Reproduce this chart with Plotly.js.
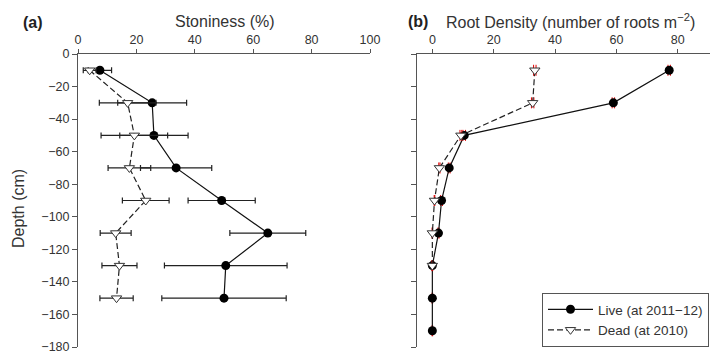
<!DOCTYPE html>
<html>
<head>
<meta charset="utf-8">
<script src="https://cdn.plot.ly/plotly-3.0.1.min.js"></script>
<style>html,body{margin:0;padding:0;background:#fff;}#chart{width:710px;height:353px;}</style>
</head>
<body>
<div id="chart"></div>
<script>
// ---- data ----
var stoneDepth = [-10, -30, -50, -70, -90, -110, -130, -150];
var stoneLive = [7.5, 25.4, 26.0, 33.6, 49.2, 65.0, 50.6, 50.0];
var stoneLiveErr = [4.0, 11.8, 11.7, 12.2, 11.5, 13.0, 21.0, 21.3];
var stoneDead = [4.0, 17.0, 19.3, 17.6, 23.2, 12.9, 14.2, 13.2];
var stoneDeadErr = [2.2, 9.7, 11.4, 7.3, 8.0, 5.3, 6.0, 5.7];

var rootLiveDepth = [-10, -30, -50, -70, -90, -110, -130, -150, -170];
var rootLive = [77.2, 59.0, 10.4, 5.5, 3.0, 2.0, 0, 0, 0];
var rootLiveErr = [0.4, 0.4, 0.4, 0.3, 0.3, 0.2, 0.1, 0.1, 0.1];
var rootDeadDepth = [-10, -30, -50, -70, -90, -110, -130];
var rootDead = [33.4, 32.7, 9.3, 2.3, 0.7, 0, 0];
var rootDeadErr = [0.4, 0.4, 0.3, 0.2, 0.1, 0.1, 0.1];

var depthTicks = [0, -20, -40, -60, -80, -100, -120, -140, -160, -180];
var stoneTicks = [0, 20, 40, 60, 80, 100];
var rootTicks = [0, 20, 40, 60, 80];

var liveName = 'Live (at 2011\u221212)';
var deadName = 'Dead (at 2010)';

var W = 710, H = 353;
function px(x) { return x / W; }
function py(y) { return 1 - y / H; }

var ebA = function (arr) {
  return {type: 'data', array: arr, visible: true, color: '#222', thickness: 1.2, width: 3};
};
var ebB = function (arr) {
  return {type: 'data', array: arr, visible: true, color: '#e00000', thickness: 1, width: 5.5};
};

var traces = [
  {x: stoneLive, y: stoneDepth, xaxis: 'x', yaxis: 'y', type: 'scatter', mode: 'lines+markers',
   error_x: ebA(stoneLiveErr), showlegend: false,
   line: {color: '#111', width: 1.2}, marker: {symbol: 'circle', size: 9, color: '#000'}},
  {x: stoneDead, y: stoneDepth, xaxis: 'x', yaxis: 'y', type: 'scatter', mode: 'lines+markers',
   error_x: ebA(stoneDeadErr), showlegend: false,
   line: {color: '#222', width: 1.2, dash: '6px,3px'},
   marker: {symbol: 'triangle-down', size: 9, color: '#fff', line: {color: '#333', width: 1}}},
  {x: rootLive, y: rootLiveDepth, xaxis: 'x2', yaxis: 'y2', type: 'scatter', mode: 'lines+markers',
   name: liveName, error_x: ebB(rootLiveErr),
   line: {color: '#111', width: 1.2}, marker: {symbol: 'circle', size: 9, color: '#000'}},
  {x: rootDead, y: rootDeadDepth, xaxis: 'x2', yaxis: 'y2', type: 'scatter', mode: 'lines+markers',
   name: deadName, error_x: ebB(rootDeadErr),
   line: {color: '#222', width: 1.2, dash: '6px,3px'},
   marker: {symbol: 'triangle-down', size: 9, color: '#fff', line: {color: '#333', width: 1}}}
];

var axisCommon = {
  showgrid: false, zeroline: false, showline: true, linecolor: '#555', linewidth: 1,
  ticks: 'outside', tickcolor: '#555', ticklen: 5, tickwidth: 1,
  tickfont: {size: 12.5, color: '#333'}, fixedrange: true, ticklabeloverflow: 'allow'
};

var layout = {
  width: W, height: H,
  margin: {l: 0, r: 0, t: 0, b: 0},
  paper_bgcolor: '#fff', plot_bgcolor: 'rgba(0,0,0,0)',
  font: {family: 'Arial, "Liberation Sans", sans-serif', color: '#333'},
  xaxis: Object.assign({}, axisCommon, {
    domain: [px(78), px(370)], range: [0, 100], side: 'top', anchor: 'y',
    tickmode: 'array', tickvals: stoneTicks, ticktext: stoneTicks.map(String), ticklen: 4
  }),
  yaxis: Object.assign({}, axisCommon, {
    domain: [py(347), py(54)], range: [-180, 0], anchor: 'x',
    tickmode: 'array', tickvals: depthTicks
  }),
  xaxis2: Object.assign({}, axisCommon, {
    domain: [px(416.7), 1], range: [-5.1, 90.5], side: 'top', anchor: 'y2',
    tickmode: 'array', tickvals: rootTicks, ticktext: rootTicks.map(String), ticklen: 4
  }),
  yaxis2: Object.assign({}, axisCommon, {
    domain: [py(347), py(54)], range: [-180, 0], anchor: 'x2',
    tickmode: 'array', tickvals: depthTicks, showticklabels: false
  }),
  legend: {
    x: px(542), y: py(293), xanchor: 'left', yanchor: 'top',
    bgcolor: '#fff', bordercolor: '#555', borderwidth: 1, itemwidth: 45,
    font: {size: 13.5, color: '#333'}, tracegroupgap: 0
  },
  annotations: [
    {text: '<b>(a)</b>', xref: 'paper', yref: 'paper', x: px(21), y: py(22.5), xanchor: 'left', yanchor: 'middle',
     showarrow: false, font: {size: 16, color: '#222'}},
    {text: 'Stoniness (%)', xref: 'paper', yref: 'paper', x: px(224.5), y: py(21), xanchor: 'center', yanchor: 'middle',
     showarrow: false, font: {size: 16, color: '#333'}},
    {text: 'Depth (cm)', xref: 'paper', yref: 'paper', x: px(18), y: py(209), xanchor: 'center', yanchor: 'middle',
     textangle: -90, showarrow: false, font: {size: 16, color: '#333'}},
    {text: '<b>(b)</b>', xref: 'paper', yref: 'paper', x: px(406), y: py(22), xanchor: 'left', yanchor: 'middle',
     showarrow: false, font: {size: 16, color: '#222'}},
    {text: 'Root Density (number of roots m<sup>\u22122</sup>)', xref: 'paper', yref: 'paper', x: px(444), y: py(21),
     xanchor: 'left', yanchor: 'middle', showarrow: false, font: {size: 16, color: '#333'}}
  ]
};

Plotly.newPlot('chart', traces, layout, {displayModeBar: false, staticPlot: true});
</script>
</body>
</html>
